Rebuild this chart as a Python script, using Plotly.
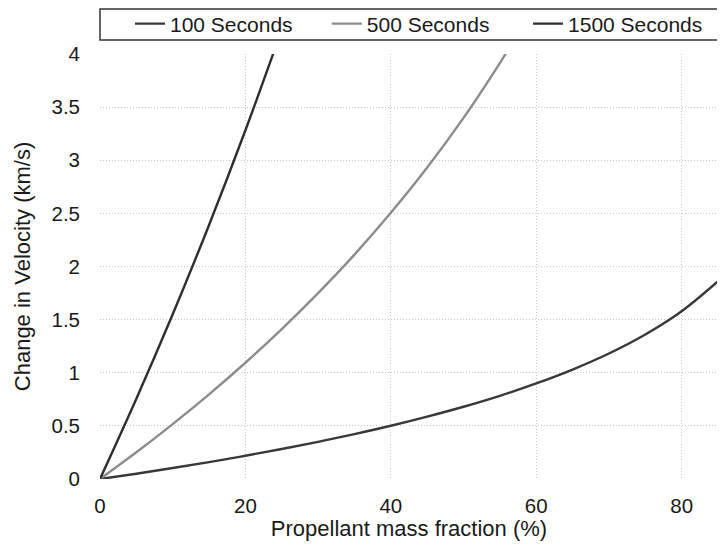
import plotly.graph_objects as go

# Propellant mass fraction (%)
x_100 = [0, 5, 10, 15, 20, 25, 30, 35, 40, 45, 50, 55, 60, 65, 70, 75, 80, 85]
y_100 = [0, 0.050, 0.103, 0.159, 0.219, 0.282, 0.350, 0.423, 0.501, 0.587,
         0.680, 0.783, 0.899, 1.030, 1.181, 1.360, 1.579, 1.861]

x_500 = [0, 5, 10, 15, 20, 25, 30, 35, 40, 45, 50, 55, 56]
y_500 = [0, 0.251, 0.517, 0.797, 1.094, 1.411, 1.749, 2.112, 2.505, 2.931,
         3.399, 3.915, 4.025]

x_1500 = [0, 5, 10, 15, 20, 24]
y_1500 = [0, 0.755, 1.550, 2.391, 3.282, 4.037]

names = ["100 Seconds", "500 Seconds", "1500 Seconds"]
colors = ["#383838", "#8c8c8c", "#2e2e2e"]

x_ticks = [0, 20, 40, 60, 80]
y_ticks = [0, 0.5, 1, 1.5, 2, 2.5, 3, 3.5, 4]
y_tick_text = ["0", "0.5", "1", "1.5", "2", "2.5", "3", "3.5", "4"]

legend_ids = ["legend", "legend2", "legend3"]
legend_x = [0.0485, 0.367, 0.6926]

fig = go.Figure()
for xs, ys, nm, c, lg in zip([x_100, x_500, x_1500], [y_100, y_500, y_1500],
                             names, colors, legend_ids):
    fig.add_trace(go.Scatter(x=xs, y=ys, mode="lines", name=nm, legend=lg,
                             line=dict(color=c, width=2.4, shape="spline")))

font = "Liberation Sans, Arial, sans-serif"
grid = "#c8c8c8"
leg_common = dict(orientation="h", y=1.0706, yanchor="middle", xanchor="left",
                  itemwidth=30, font=dict(size=21, color="#1a1a1a"),
                  bgcolor="rgba(0,0,0,0)", borderwidth=0)
fig.update_layout(
    width=725, height=548,
    margin=dict(l=92, r=15, t=46, b=77, autoexpand=False),
    paper_bgcolor="white", plot_bgcolor="white",
    font=dict(family=font, size=20, color="#1a1a1a"),
    showlegend=True,
    legend=dict(x=legend_x[0], **leg_common),
    legend2=dict(x=legend_x[1], **leg_common),
    legend3=dict(x=legend_x[2], **leg_common),
    xaxis=dict(range=[0, 85], tickvals=x_ticks, showgrid=True, gridcolor=grid,
               griddash="1px,2px", gridwidth=1, zeroline=False, showline=False,
               ticks="", ticklabelstandoff=12, tickfont=dict(size=20.5),
               title=dict(text="Propellant mass fraction (%)", standoff=3,
                          font=dict(size=22))),
    yaxis=dict(range=[0, 4], tickvals=y_ticks, ticktext=y_tick_text, showgrid=True,
               gridcolor=grid, griddash="1px,2px", gridwidth=1, zeroline=False,
               showline=False, ticks="", ticklabelstandoff=19, tickfont=dict(size=20.5),
               title=dict(text="Change in Velocity (km/s)", standoff=14,
                          font=dict(size=22))),
    shapes=[dict(type="rect", xref="paper", yref="paper", x0=0.0, x1=1.04,
                 y0=1.033, y1=1.106, line=dict(color="#333", width=1.5),
                 fillcolor="rgba(0,0,0,0)")],
)
fig.write_html("out.html")
